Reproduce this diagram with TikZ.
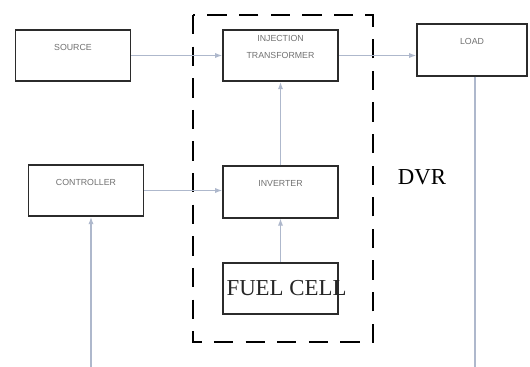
\documentclass[tikz,border=0pt]{standalone}
\usepackage{fontspec}
\setmainfont{Liberation Serif}
\setsansfont{Liberation Sans}
\usetikzlibrary{arrows.meta,positioning}
\definecolor{wire}{HTML}{AEB8CC}
\definecolor{edge}{HTML}{2B2B2B}
\definecolor{lbl}{HTML}{707070}

\begin{document}
\begin{tikzpicture}[x=0.02cm,y=-0.02cm,
    blk/.style={draw=edge,line width=1.1pt,minimum width=2.3cm,minimum height=1.03cm,inner sep=0pt},
    tag/.style={font=\sffamily\fontsize{5}{9.5}\selectfont,text=lbl,anchor=center,yshift=-0.37cm,align=center},
    feed/.style={wire,line width=0.6pt,-{Latex[length=4pt,width=3pt]}}]
  \useasboundingbox (0,0) rectangle (530,367);
  \clip (0,0) rectangle (530,367);
  % main path
  \node[blk,label={[tag]north:SOURCE}] (src) at (73,55.5) {};
  \node[blk,label={[tag]north:INJECTION\\TRANSFORMER}] (inj) at (280.5,55.5) {};
  \node[blk,minimum width=2.2cm,label={[tag]north:LOAD}] (load) at (472,50) {};
  % control side
  \node[blk,label={[tag]north:CONTROLLER}] (ctrl) at (86,190.5) {};
  \node[blk,label={[tag]north:INVERTER}] (inv) at (280.5,192) {};
  \node[blk,label={[font=\fontsize{13}{15}\selectfont,text=black!85,anchor=center,xshift=0.12cm]center:FUEL CELL}] (fuel) at (280.5,288.5) {};
  % dvr boundary
  \draw[black,line width=1.1pt,dash pattern=on 11pt off 7pt] (193,15) rectangle (373,342);
  \node[font=\fontsize{13}{15}\selectfont] (dvr) at (422,177) {DVR};
  \draw[feed] (src) -- (inj);
  \draw[feed] (inj.east) -- (inj.east -| load.west);
  \draw[feed] (ctrl.east) -- (ctrl.east -| inv.west);
  \draw[feed] (inv.north) -- (inj.south);
  \draw[feed] (fuel.north) -- (inv.south);
  % feedback loop
  \coordinate (fbout) at ([xshift=0.06cm]load.south);
  \coordinate (fbin) at ([xshift=0.1cm]ctrl.south);
  \coordinate (fb) at (0,385);
  \draw[feed] (fbout) |- (fb -| fbin) -- (fbin);
\end{tikzpicture}
\end{document}
